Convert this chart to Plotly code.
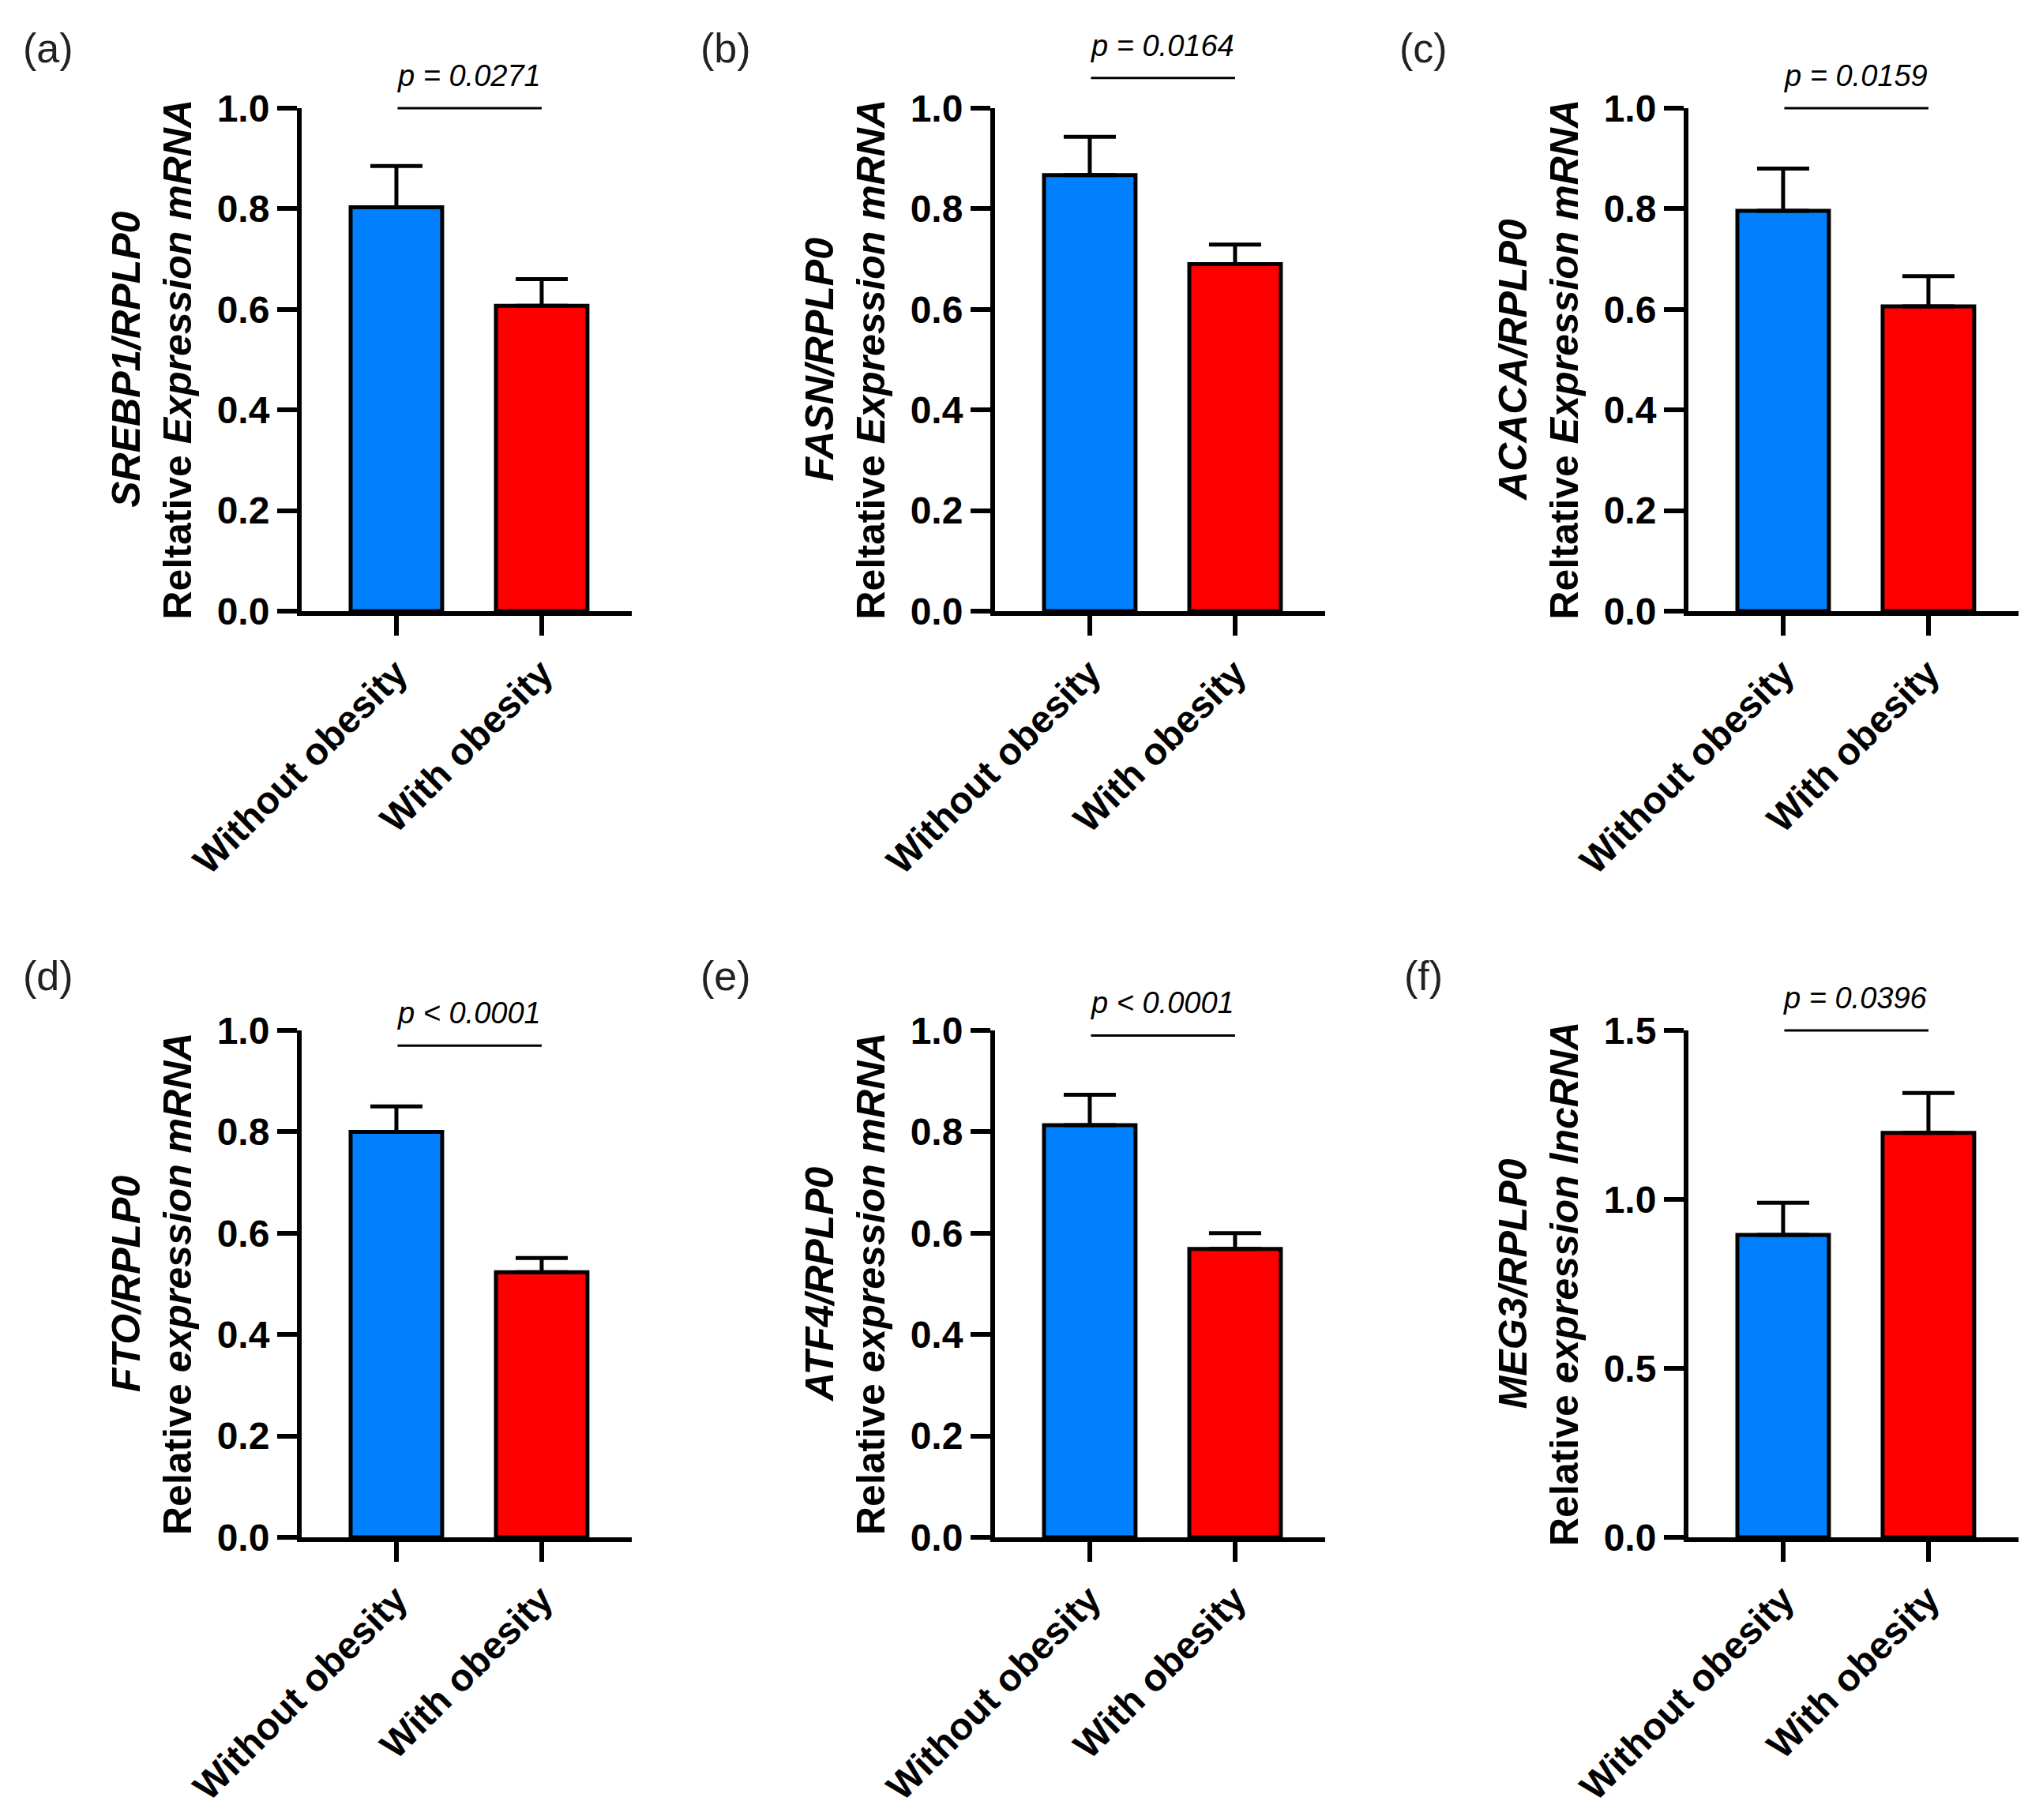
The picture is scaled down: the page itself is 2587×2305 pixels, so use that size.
import plotly.graph_objects as go

# ---------------- data ----------------
categories = ["Without obesity", "With obesity"]
panel_letters = ["(a)", "(b)", "(c)", "(d)", "(e)", "(f)"]
genes = ["SREBP1/RPLP0", "FASN/RPLP0", "ACACA/RPLP0", "FTO/RPLP0", "ATF4/RPLP0", "MEG3/RPLP0"]
measure_word = ["Reltative", "Reltative", "Reltative", "Relative", "Relative", "Relative"]
measure_rest = ["Expression mRNA", "Expression mRNA", "Expression mRNA",
                "expression mRNA", "expression mRNA", "expression lncRNA"]
means_without = [0.803, 0.867, 0.796, 0.800, 0.813, 0.895]
means_with = [0.607, 0.690, 0.606, 0.523, 0.569, 1.197]
sem_without = [0.082, 0.076, 0.084, 0.050, 0.060, 0.095]
sem_with = [0.053, 0.039, 0.060, 0.028, 0.031, 0.118]
p_labels = ["p = 0.0271", "p = 0.0164", "p = 0.0159", "p < 0.0001", "p < 0.0001", "p = 0.0396"]
p_line_y = [1.0, 1.06, 1.0, 0.97, 0.99, 1.5]
y_max = [1.0, 1.0, 1.0, 1.0, 1.0, 1.5]
y_dtick = [0.2, 0.2, 0.2, 0.2, 0.2, 0.5]

bar_colors = ["#0080FF", "#FF0000"]

# ---------------- layout geometry (pixels) ----------------
W, H = 2587, 2305
axis_x = [374, 1252, 2130]          # y-axis line x per column
plot_w = 418
x_range = [-0.652, 1.62]
row_top = [129, 1297]               # pixel y of top of plot per row
row_bot = [766, 1939]               # pixel y of bottom (0) per row
label_x = [53, 911, 1794]
label_y = [53, 1228]
title_offset = 190

FONT = "Liberation Sans, Arial, sans-serif"

fig = go.Figure()
layout = dict(
    width=W, height=H,
    margin=dict(l=0, r=0, t=0, b=0, autoexpand=False),
    paper_bgcolor="white", plot_bgcolor="white",
    showlegend=False,
    annotations=[],
)

for i in range(6):
    r, c = divmod(i, 3)
    n = i + 1
    xa = "x" if n == 1 else f"x{n}"
    ya = "y" if n == 1 else f"y{n}"
    xkey = "xaxis" if n == 1 else f"xaxis{n}"
    ykey = "yaxis" if n == 1 else f"yaxis{n}"

    fig.add_trace(go.Bar(
        x=categories,
        y=[means_without[i], means_with[i]],
        marker=dict(color=bar_colors, line=dict(color="black", width=5)),
        error_y=dict(type="data", symmetric=False,
                     array=[sem_without[i], sem_with[i]], arrayminus=[0, 0],
                     color="black", thickness=5, width=33),
        width=0.63,
        cliponaxis=False,
        xaxis=xa, yaxis=ya,
    ))

    x0 = axis_x[c] / W
    x1 = (axis_x[c] + plot_w) / W
    y0 = 1 - row_bot[r] / H
    y1 = 1 - row_top[r] / H

    layout[xkey] = dict(
        domain=[x0, x1], anchor=ya, type="category",
        categoryorder="array", categoryarray=categories,
        range=x_range, automargin=False,
        showline=True, linewidth=6, linecolor="black",
        ticks="outside", ticklen=25, tickwidth=6, tickcolor="black",
        tickangle=-45,
        tickfont=dict(family=FONT, size=48, color="black", weight="bold"),
        showgrid=False, zeroline=False, fixedrange=True,
    )
    ticks = []
    v = 0.0
    while v <= y_max[i] + 1e-9:
        ticks.append(round(v, 2))
        v += y_dtick[i]
    layout[ykey] = dict(
        domain=[y0, y1], anchor=xa,
        range=[0, y_max[i]], automargin=False,
        tickvals=ticks, tickformat=".1f",
        showline=True, linewidth=6, linecolor="black",
        ticks="outside", ticklen=25, tickwidth=6, tickcolor="black",
        tickfont=dict(family=FONT, size=48, color="black", weight="bold"),
        showgrid=False, zeroline=False, fixedrange=True,
    )

    # significance bracket level, mapped from data value to the subplot's paper span
    p_paper = y0 + (p_line_y[i] / y_max[i]) * (y1 - y0)
    layout["annotations"].append(dict(
        x=1, y=p_paper, xref=xa, yref="paper",
        ax=0, ay=0, axref=xa, ayref="pixel",
        text="", showarrow=True, arrowhead=0, arrowwidth=3,
        arrowcolor="black", standoff=0, startstandoff=0,
    ))
    # p value text
    layout["annotations"].append(dict(
        x=0.5, y=p_paper, xref=xa, yref="paper",
        text=f"<i>{p_labels[i]}</i>", showarrow=False,
        yshift=41, xanchor="center", yanchor="middle",
        font=dict(family=FONT, size=38, color="black"),
    ))
    # y-axis title
    layout["annotations"].append(dict(
        x=(axis_x[c] - title_offset) / W, y=(y0 + y1) / 2,
        xref="paper", yref="paper",
        text=f"<b><i>{genes[i]}</i></b><br><b>{measure_word[i]} <i>{measure_rest[i]}</i></b>",
        textangle=-90, showarrow=False, xanchor="center", yanchor="middle",
        font=dict(family=FONT, size=50, color="black"),
    ))
    # panel letter
    layout["annotations"].append(dict(
        x=label_x[c] / W, y=1 - label_y[r] / H, xref="paper", yref="paper",
        text=panel_letters[i], showarrow=False, xanchor="center", yanchor="middle",
        font=dict(family=FONT, size=52, color="#222222"),
    ))

fig.update_layout(**layout)
fig.write_html("out.html")
